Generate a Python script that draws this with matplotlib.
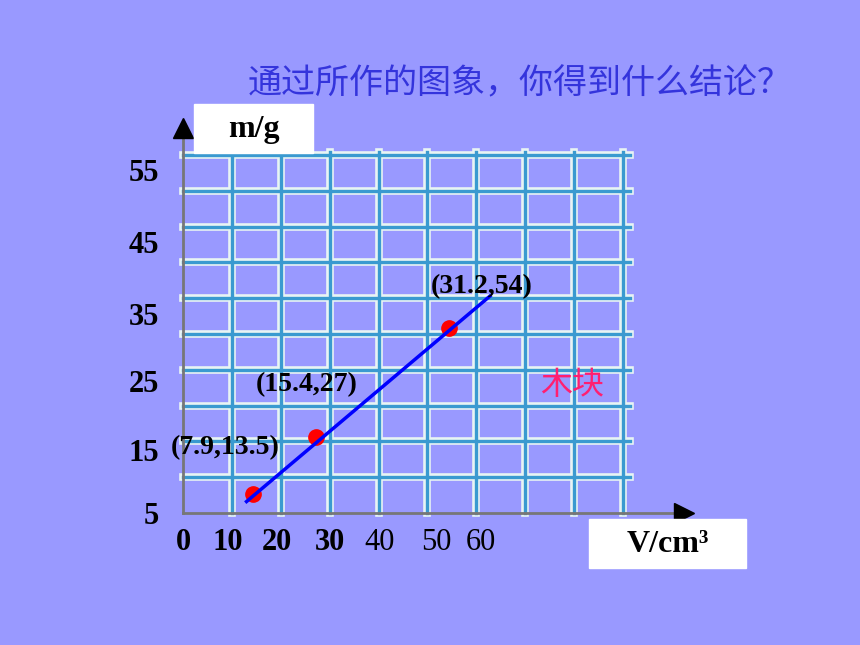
import matplotlib.pyplot as plt

# values
v_ticks = ['0', '10', '20', '30', '40', '50', '60']
m_ticks = ['55', '45', '35', '25', '15', '5']
point_v = [14.3, 27.2, 54.4]
point_m = [7.6, 15.6, 30.8]
line_v = [13.0, 62.8]
line_m = [6.6, 35.3]
point_labels = ['(7.9,13.5)', '(15.4,27)', '(31.2,54)']

BG = '#9999ff'
GRID = '#3a9ad0'
serif = ['Liberation Serif', 'DejaVu Serif']
cjk = ['Noto Sans CJK SC', 'DejaVu Sans']

fig = plt.figure(figsize=(8.6, 6.45), dpi=100, facecolor=BG)
ax = fig.add_axes([183 / 860, 132 / 645, 440 / 860, 358 / 645])
ax.set_facecolor('none')
ax.set_xlim(0, 90)
ax.set_ylim(5, 55)
for s in ax.spines.values():
    s.set_visible(False)

# grid with light halo
for x in range(10, 100, 10):
    ax.plot([x, x], [5, 55.4], color='#e8f4f4', lw=5.5, clip_on=False, zorder=1)
for y in range(10, 60, 5):
    ax.plot([0, 91.5], [y, y], color='#e8f4f4', lw=5.5, clip_on=False, zorder=1)
for x in range(10, 100, 10):
    ax.plot([x, x], [5, 55.4], color=GRID, lw=2.4, clip_on=False, zorder=2)
for y in range(10, 60, 5):
    ax.plot([0, 91.5], [y, y], color=GRID, lw=2.4, clip_on=False, zorder=2)

# axes with arrows
ax.plot([0, 0], [5, 58.5], color='#777777', lw=2, clip_on=False, zorder=3)
ax.plot([0, 102], [5, 5], color='#777777', lw=2, clip_on=False, zorder=3)
ax.plot(0, 58.8, marker='^', ms=15, color='black', clip_on=False, zorder=3)
ax.plot(102.5, 5, marker='>', ms=15, color='black', clip_on=False, zorder=3)

# ticks
ax.set_xticks([0, 9.2, 19.2, 30, 40.2, 51.8, 61], v_ticks,
              fontsize=22, family=serif)
ax.set_yticks([52.9, 42.9, 32.8, 23.5, 13.75, 5], m_ticks,
              fontsize=22, family=serif, fontweight='bold')
for i, t in enumerate(ax.get_xticklabels()):
    t.set_fontweight('bold' if i < 4 else 'normal')
ax.tick_params(length=0, pad=11)
ax.tick_params(axis='y', pad=17)

# line and points
ax.plot(line_v, line_m, color='#0000ff', lw=2.5, zorder=5)
ax.plot(point_v, point_m, 'o', color='#ff0000', ms=11, zorder=4)

label_pos = [(8.6, 14.2), (25.3, 22.9), (61.1, 36.6)]
for (x, y), s in zip(label_pos, point_labels):
    ax.text(x, y, s, fontsize=20, family=serif, fontweight='bold',
            ha='center', va='center', zorder=6)

ax.text(79.5, 22.9, '木块', fontsize=23, family=cjk, color='#ff1f70',
        ha='center', va='center', zorder=6)

# title
fig.text(520 / 860, 1 - 84 / 645, '通过所作的图象，你得到什么结论？',
         fontsize=24.5, family=cjk, color='#3434dc', ha='center', va='center')

# axis name boxes
fig.patches.append(plt.Rectangle((194 / 860, 1 - 153 / 645), 119 / 860, 49 / 645,
                                 transform=fig.transFigure, color='white'))
fig.text(254 / 860, 1 - 130 / 645, 'm/g', fontsize=23, family=serif,
         fontweight='bold', ha='center', va='center')
fig.patches.append(plt.Rectangle((589 / 860, 1 - 568 / 645), 157 / 860, 49 / 645,
                                 transform=fig.transFigure, color='white'))
fig.text(668 / 860, 1 - 545 / 645, 'V/cm³', fontsize=23, family=serif,
         fontweight='bold', ha='center', va='center')

fig.savefig('out.png', dpi=100, facecolor=BG)
